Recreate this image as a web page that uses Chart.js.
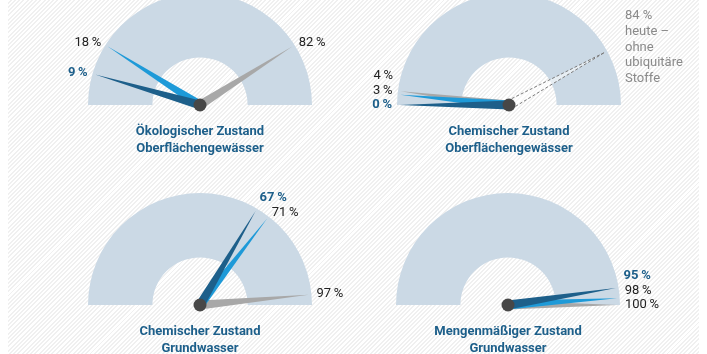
<!DOCTYPE html>
<html>
<head>
<meta charset="utf-8">
<script src="https://cdn.jsdelivr.net/npm/chart.js"></script>
<style>
  html, body { margin: 0; padding: 0; background: #fff; overflow: hidden; }
  #wrap { position: relative; width: 707px; height: 354px; overflow: hidden; }
  #hatch {
    position: absolute; left: 8px; top: 0; width: 691px; height: 354px;
    background: repeating-linear-gradient(135deg, #fff 0, #fff 1.6px, #f0f0f0 1.6px, #f0f0f0 3px);
  }
  canvas { position: absolute; }
  .title {
    position: absolute; width: 240px; text-align: center;
    font: bold 13px Roboto, sans-serif; line-height: 17px; color: #1d5f8a;
  }
</style>
</head>
<body>
<div id="wrap"><div id="hatch"></div></div>
<script>
// one entry per gauge
const gaugeTitles = [
  ["Ökologischer Zustand", "Oberflächengewässer"],
  ["Chemischer Zustand", "Oberflächengewässer"],
  ["Chemischer Zustand", "Grundwasser"],
  ["Mengenmäßiger Zustand", "Grundwasser"]
];
const darkValues = [9, 0, 67, 95];
const midValues = [18, 3, 71, 98];
const grayValues = [82, 4, 97, 100];
const dashedValues = [null, 84, null, null];
const dashedNotes = [null, ["84 %", "heute –", "ohne", "ubiquitäre", "Stoffe"], null, null];
const scaleMax = 100;

const spots = [
  { cx: 200, cy: 105 },
  { cx: 509, cy: 105 },
  { cx: 200, cy: 305 },
  { cx: 508, cy: 305 }
];
const R = 112;
const CW = 354, CH = 180, PAD_TOP = 20;

const DARK = '#1d5f8a', MID = '#1e9ad8', GRAY = '#a8a8a8', ARC = '#cbd9e5';

function drawNeedle(ctx, x, y, ang, len, half) {
  const tx = x + Math.cos(ang) * len, ty = y + Math.sin(ang) * len;
  const px = -Math.sin(ang) * half, py = Math.cos(ang) * half;
  ctx.beginPath();
  ctx.moveTo(x + px, y + py);
  ctx.lineTo(tx, ty);
  ctx.lineTo(x - px, y - py);
  ctx.closePath();
  return { tx, ty, px, py };
}

const needlePlugin = {
  id: 'needles',
  afterDatasetsDraw(chart, args, opts) {
    const i = opts.index;
    const arc = chart.getDatasetMeta(0).data[0];
    const { x, y, outerRadius, startAngle, endAngle } =
      arc.getProps(['x', 'y', 'outerRadius', 'startAngle', 'endAngle'], true);
    const angleOf = v => startAngle + (endAngle - startAngle) * v / scaleMax;
    const ctx = chart.ctx;
    const len = outerRadius * 0.975;
    ctx.save();

    // dashed needle
    if (dashedValues[i] != null) {
      const a = angleOf(dashedValues[i]);
      const n = drawNeedle(ctx, x, y, a, len, 4.5);
      ctx.fillStyle = 'rgba(255,255,255,0.55)';
      ctx.fill();
      ctx.setLineDash([3, 2]);
      ctx.strokeStyle = '#7a7a7a';
      ctx.lineWidth = 1;
      ctx.beginPath();
      ctx.moveTo(x + n.px, y + n.py); ctx.lineTo(n.tx, n.ty); ctx.lineTo(x - n.px, y - n.py);
      ctx.stroke();
      ctx.setLineDash([]);
      const lines = dashedNotes[i];
      ctx.font = '13px Roboto, sans-serif';
      ctx.fillStyle = '#8a8a8a';
      ctx.textAlign = 'left';
      ctx.textBaseline = 'middle';
      const lh = 15.7;
      const top = n.ty - 5 - (lines.length - 1) * lh / 2;
      lines.forEach((t, k) => ctx.fillText(t, x + outerRadius + 4, top + k * lh));
    }

    const series = [
      { v: grayValues[i], color: GRAY, bold: false },
      { v: midValues[i], color: MID, bold: false },
      { v: darkValues[i], color: DARK, bold: true }
    ];
    series.forEach(s => {
      drawNeedle(ctx, x, y, angleOf(s.v), len, 4.5);
      ctx.fillStyle = s.color;
      ctx.fill();
    });

    // hub
    ctx.beginPath();
    ctx.arc(x, y, 6.5, 0, Math.PI * 2);
    ctx.fillStyle = '#474747';
    ctx.fill();

    // value labels
    const ra = outerRadius + 5;
    const labels = series.map(s => {
      const a = angleOf(s.v);
      const c = Math.cos(a);
      return {
        text: s.v + '\u2009%', bold: s.bold,
        x: x + c * ra, y: y + Math.sin(a) * ra,
        side: c < 0 ? 'left' : 'right'
      };
    });
    ['left', 'right'].forEach(side => {
      const group = labels.filter(l => l.side === side).sort((a, b) => b.y - a.y);
      for (let k = 1; k < group.length; k++) {
        if (group[k].y > group[k - 1].y - 14.5) group[k].y = group[k - 1].y - 14.5;
      }
    });
    ctx.textBaseline = 'middle';
    labels.forEach(l => {
      ctx.font = (l.bold ? 'bold ' : '') + '13px Roboto, sans-serif';
      ctx.fillStyle = l.bold ? DARK : '#222';
      ctx.textAlign = l.side === 'left' ? 'right' : 'left';
      ctx.fillText(l.text, l.x, l.y);
    });
    ctx.restore();
  }
};

const wrap = document.getElementById('wrap');
spots.forEach((s, i) => {
  const canvas = document.createElement('canvas');
  canvas.width = CW;
  canvas.height = CH;
  canvas.style.left = (s.cx - CW / 2) + 'px';
  canvas.style.top = (s.cy - R - PAD_TOP) + 'px';
  canvas.style.width = CW + 'px';
  canvas.style.height = CH + 'px';
  wrap.appendChild(canvas);

  const side = CW / 2 - R;
  new Chart(canvas, {
    type: 'doughnut',
    data: {
      labels: ['Skala'],
      datasets: [{ data: [scaleMax], backgroundColor: ARC, borderWidth: 0 }]
    },
    options: {
      responsive: false,
      animation: false,
      events: [],
      rotation: -90,
      circumference: 180,
      cutout: '42.5%',
      layout: { padding: { left: side, right: side, top: PAD_TOP, bottom: CH - PAD_TOP - R } },
      plugins: {
        legend: { display: false },
        tooltip: { enabled: false },
        needles: { index: i }
      }
    },
    plugins: [needlePlugin]
  });

  const t = document.createElement('div');
  t.className = 'title';
  t.style.left = (s.cx - 120) + 'px';
  t.style.top = (s.cy + 17) + 'px';
  t.innerHTML = gaugeTitles[i].join('<br>');
  wrap.appendChild(t);
});
</script>
</body>
</html>
